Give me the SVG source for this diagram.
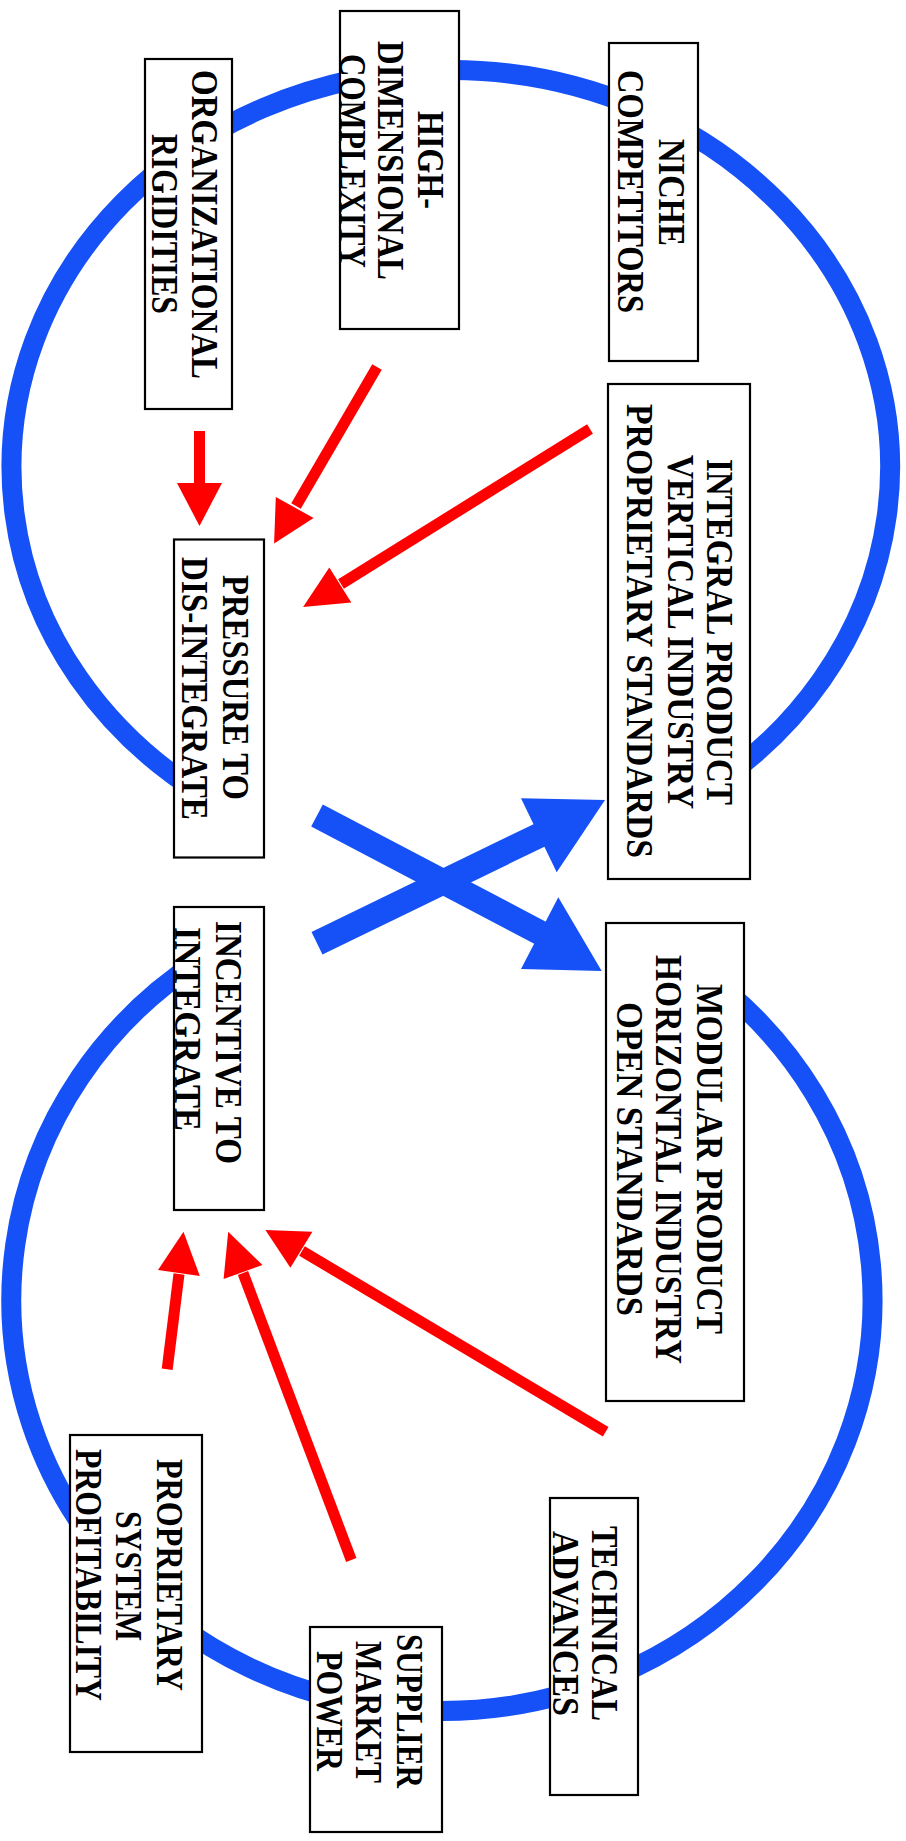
<svg xmlns="http://www.w3.org/2000/svg" width="906" height="1841" viewBox="0 0 906 1841">
<style>
.cyc{fill:none;stroke:#1551F7;stroke-width:20}
.box{fill:#fff;stroke:#000;stroke-width:2.2}
.t{font-family:"Liberation Serif","Times New Roman",serif;font-weight:bold;font-size:38px;text-anchor:middle;fill:#000}
.red{stroke:#FF0000;stroke-width:11;fill:none}
.redh{fill:#FF0000}
.blue{stroke:#1551F7;stroke-width:25;fill:none}
.blueh{fill:#1551F7}
</style>
<rect width="906" height="1841" fill="#fff"/>
<g id="cycles">
<path class="cyc" d="M 200 793 A 439.3 397 0 1 1 700 794"/>
<path class="cyc" d="M 200 960 A 430.6 411 0 1 0 700 971"/>
</g>
<g id="n-org">
<rect class="box" x="145" y="59" width="87" height="350"/>
<text class="t" transform="translate(192.4,224.5) rotate(90)" textLength="309" lengthAdjust="spacingAndGlyphs">ORGANIZATIONAL</text>
<text class="t" transform="translate(151.9,224) rotate(90)" textLength="180" lengthAdjust="spacingAndGlyphs">RIGIDITIES</text>
</g>
<g id="n-high">
<rect class="box" x="340" y="11" width="119" height="318"/>
<text class="t" transform="translate(418.4,160) rotate(90)" textLength="98" lengthAdjust="spacingAndGlyphs">HIGH-</text>
<text class="t" transform="translate(378.4,160.5) rotate(90)" textLength="239" lengthAdjust="spacingAndGlyphs">DIMENSIONAL</text>
<text class="t" transform="translate(340.4,161) rotate(90)" textLength="214" lengthAdjust="spacingAndGlyphs">COMPLEXITY</text>
</g>
<g id="n-niche">
<rect class="box" x="609" y="43" width="89" height="318"/>
<text class="t" transform="translate(659.4,192.5) rotate(90)" textLength="107" lengthAdjust="spacingAndGlyphs">NICHE</text>
<text class="t" transform="translate(618.4,191.5) rotate(90)" textLength="243" lengthAdjust="spacingAndGlyphs">COMPETITORS</text>
</g>
<g id="n-integral">
<rect class="box" x="608" y="384" width="142" height="495"/>
<text class="t" transform="translate(707.4,632) rotate(90)" textLength="346" lengthAdjust="spacingAndGlyphs">INTEGRAL PRODUCT</text>
<text class="t" transform="translate(668.4,632) rotate(90)" textLength="354" lengthAdjust="spacingAndGlyphs">VERTICAL INDUSTRY</text>
<text class="t" transform="translate(627.4,631) rotate(90)" textLength="454" lengthAdjust="spacingAndGlyphs">PROPRIETARY STANDARDS</text>
</g>
<g id="n-pressure">
<rect class="box" x="174" y="539.5" width="90" height="318"/>
<text class="t" transform="translate(223.4,687.5) rotate(90)" textLength="225" lengthAdjust="spacingAndGlyphs">PRESSURE TO</text>
<text class="t" transform="translate(181.9,688.5) rotate(90)" textLength="263" lengthAdjust="spacingAndGlyphs">DIS-INTEGRATE</text>
</g>
<g id="n-incentive">
<rect class="box" x="174" y="907" width="90" height="303"/>
<text class="t" transform="translate(216.4,1042.5) rotate(90)" textLength="243" lengthAdjust="spacingAndGlyphs">INCENTIVE TO</text>
<text class="t" transform="translate(175.4,1029) rotate(90)" textLength="204" lengthAdjust="spacingAndGlyphs">INTEGRATE</text>
</g>
<g id="n-modular">
<rect class="box" x="606" y="923" width="138" height="478"/>
<text class="t" transform="translate(696.9,1159) rotate(90)" textLength="350" lengthAdjust="spacingAndGlyphs">MODULAR PRODUCT</text>
<text class="t" transform="translate(656.4,1159.5) rotate(90)" textLength="409" lengthAdjust="spacingAndGlyphs">HORIZONTAL INDUSTRY</text>
<text class="t" transform="translate(616.9,1159) rotate(90)" textLength="314" lengthAdjust="spacingAndGlyphs">OPEN STANDARDS</text>
</g>
<g id="n-propsys">
<rect class="box" x="70" y="1435" width="132" height="317"/>
<text class="t" transform="translate(156.9,1575) rotate(90)" textLength="232" lengthAdjust="spacingAndGlyphs">PROPRIETARY</text>
<text class="t" transform="translate(116.4,1576) rotate(90)" textLength="130" lengthAdjust="spacingAndGlyphs">SYSTEM</text>
<text class="t" transform="translate(76.4,1575) rotate(90)" textLength="252" lengthAdjust="spacingAndGlyphs">PROFITABILITY</text>
</g>
<g id="n-supplier">
<rect class="box" x="310" y="1627" width="132" height="205"/>
<text class="t" transform="translate(396.9,1711) rotate(90)" textLength="154" lengthAdjust="spacingAndGlyphs">SUPPLIER</text>
<text class="t" transform="translate(355.9,1712) rotate(90)" textLength="142" lengthAdjust="spacingAndGlyphs">MARKET</text>
<text class="t" transform="translate(316.9,1711) rotate(90)" textLength="120" lengthAdjust="spacingAndGlyphs">POWER</text>
</g>
<g id="n-technical">
<rect class="box" x="550" y="1498" width="88" height="297"/>
<text class="t" transform="translate(591.9,1623.5) rotate(90)" textLength="195" lengthAdjust="spacingAndGlyphs">TECHNICAL</text>
<text class="t" transform="translate(553.4,1623.5) rotate(90)" textLength="185" lengthAdjust="spacingAndGlyphs">ADVANCES</text>
</g>
<g id="connectors">
<line class="red" x1="199.5" y1="431" x2="199.5" y2="485"/>
<polygon class="redh" points="177,483 222,483 199.5,526"/>
<line class="red" x1="377" y1="367" x2="296" y2="506"/>
<polygon class="redh" points="275.8,497.1 313.6,517.9 274.1,543.6"/>
<line class="red" x1="590" y1="429" x2="341" y2="584"/>
<polygon class="redh" points="329.3,567.5 351.3,602.5 303.1,607.1"/>
<line class="red" x1="167.2" y1="1369.3" x2="179" y2="1274"/>
<polygon class="redh" points="158,1270 199.8,1276 183.5,1231.7"/>
<line class="red" x1="351.3" y1="1560" x2="243" y2="1273"/>
<polygon class="redh" points="223.6,1279 262.5,1265 228.2,1231.7"/>
<line class="red" x1="605.7" y1="1431.7" x2="302" y2="1251"/>
<polygon class="redh" points="290.4,1267.7 312.4,1231.7 265.4,1230"/>
<line class="blue" x1="317" y1="815.5" x2="541" y2="933.3"/>
<polygon class="blueh" points="558.3,897.3 601.7,971 521,969"/>
<line class="blue" x1="317" y1="943.3" x2="540" y2="834.9"/>
<polygon class="blueh" points="521,798.3 605,800 556.7,872.3"/>
</g>
</svg>
